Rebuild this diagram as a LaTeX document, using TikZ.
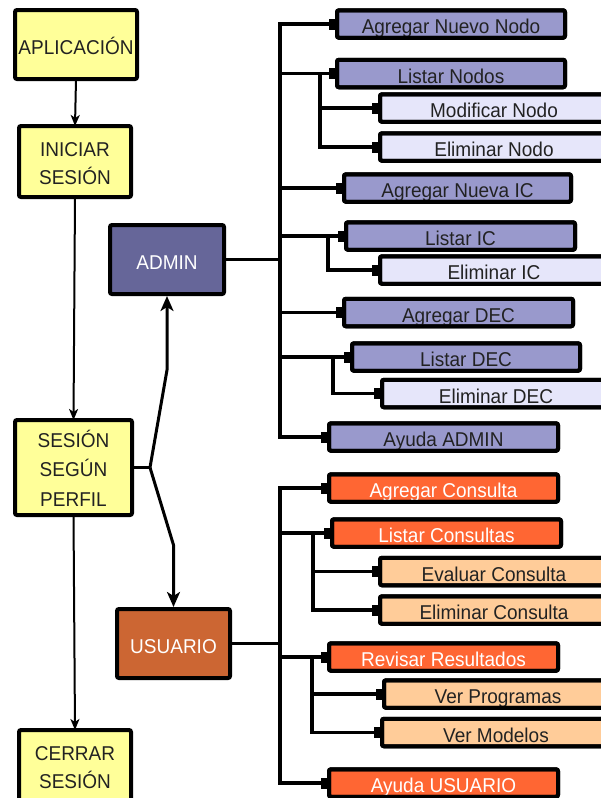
\documentclass[tikz,border=0pt]{standalone}
\usepackage{fontspec}
\setmainfont{Liberation Sans}[FakeStretch=0.95]
\usetikzlibrary{arrows.meta}
\definecolor{yel}{HTML}{FFFF99}
\definecolor{admc}{HTML}{666699}
\definecolor{usrc}{HTML}{CC6633}
\definecolor{aone}{HTML}{9999CC}
\definecolor{atwo}{HTML}{E6E6FA}
\definecolor{uone}{HTML}{FF6633}
\definecolor{utwo}{HTML}{FFCC99}
\definecolor{txt}{HTML}{222222}
\tikzset{
  box/.style={draw=black, line width=4pt, rounded corners=2pt, inner sep=0pt,
    outer sep=0pt, font=\fontsize{20}{28}\selectfont, align=center, text=txt,
    text height=19.5pt, text depth=0pt},
  frame/.style={line width=4pt, rounded corners=2pt},
  flow/.style={box, fill=yel},
  role/.style={box, text=white, minimum width=114pt, minimum height=69pt},
  lvone/.style={box, minimum width=228pt, minimum height=27.5pt},
  lvtwo/.style={box, minimum width=228pt, minimum height=27.5pt},
  conn/.style={line width=3.3pt, -{Square[length=8pt,width=11pt]}},
  bus/.style={line width=3.3pt, line cap=rect},
  thin/.style={line width=2pt, -{Stealth[length=11pt,width=9pt,inset=3pt]}},
  thick/.style={line width=3pt, -{Stealth[length=15pt,width=13pt,inset=4pt]}},
}
\begin{document}
\begin{tikzpicture}[x=1pt, y=-1pt]
\path[use as bounding box] (0,0) rectangle (601,798);
\clip (0,0) rectangle (601,798);

% main flow column
\node[flow, minimum width=122pt, minimum height=69pt] (app) at (76,44.5) {APLICACIÓN};
\node[flow, minimum width=112pt, minimum height=71pt, text height=46.3pt] (ini) at (75,161.5) {INICIAR\\SESIÓN};
\node[flow, minimum width=117pt, minimum height=95pt, text height=77.3pt,
      font=\fontsize{20}{29.5}\selectfont] (ses) at (73.5,467.5) {SESIÓN\\SEGÚN\\PERFIL};
\node[flow, minimum width=112pt, minimum height=74pt, text height=43.3pt] (cer) at (75,767) {CERRAR\\SESIÓN};

% roles
\node[role, fill=admc] (admin) at (167,259.5) {ADMIN};
\node[role, fill=usrc, minimum width=113pt] (usr) at (173.5,643.5) {USUARIO};

% administrator options
\node[lvone, fill=aone] (an1) at (451,24) {Agregar Nuevo Nodo};
\node[lvone, fill=aone] (an2) at (451,73.5) {Listar Nodos};
\node[lvtwo, fill=atwo] (an3) at (494,108) {Modificar Nodo};
\node[lvtwo, fill=atwo] (an4) at (494,147) {Eliminar Nodo};
\node[lvone, fill=aone, minimum width=227pt] (an5) at (457.5,188) {Agregar Nueva IC};
\node[lvone, fill=aone, minimum width=229pt] (an6) at (460.5,236) {Listar IC};
\node[lvtwo, fill=atwo] (an7) at (494,270) {Eliminar IC};
\node[lvone, fill=aone, minimum width=229pt] (an8) at (458.5,312.5) {Agregar DEC};
\node[lvone, fill=aone] (an9) at (466,357) {Listar DEC};
\node[lvtwo, fill=atwo] (an10) at (496,393.5) {Eliminar DEC};
\node[lvone, fill=aone, minimum width=229pt] (an11) at (443.5,437) {Ayuda ADMIN};

% user options
\node[lvone, fill=uone, text=white, minimum width=229pt] (us1) at (443.5,488) {Agregar Consulta};
\node[lvone, fill=uone, text=white, minimum width=229pt] (us2) at (446.5,533) {Listar Consultas};
\node[lvtwo, fill=utwo] (us3) at (494,571.5) {Evaluar Consulta};
\node[lvtwo, fill=utwo] (us4) at (494,610) {Eliminar Consulta};
\node[lvone, fill=uone, text=white, minimum width=229pt] (us5) at (443.5,657) {Revisar Resultados};
\node[lvtwo, fill=utwo] (us6) at (498,694) {Ver Programas};
\node[lvtwo, fill=utwo] (us7) at (496,732.5) {Ver Modelos};
\node[lvone, fill=uone, text=white, minimum width=229pt] (us8) at (443.5,783) {Ayuda USUARIO};

% frames stroked again so that descenders stay behind them
\foreach \n in {an1,an2,an3,an4,an5,an6,an7,an8,an9,an10,an11,
                us1,us2,us3,us4,us5,us6,us7,us8}
  \draw[frame] (\n.south west) rectangle (\n.north east);

% flow arrows
\draw[thin] (app.south) -- (ini.north);
\draw[thin] (ini.south) -- (ses.north);
\draw[thin] (ses.south) -- (cer.north);

% profile fork
\coordinate (fork) at (150,467.5);
\draw[line width=3pt] (ses.east) -- (fork);
\draw[thick] (fork) -- (167,370) -- ([yshift=-2pt]admin.south);
\draw[thick] (fork) -- (173.5,545) -- ([yshift=2pt]usr.north);

% administrator tree
\coordinate (abus) at (280,0);
\coordinate (nbus) at (320,0);
\coordinate (ibus) at (328,0);
\coordinate (dbus) at (333,0);
\draw[bus] (abus |- an1.west) -- (abus |- an11.west);
\draw[bus] (admin.east) -- (abus |- admin.east);
\foreach \n in {an1,an2,an5,an6,an8,an9,an11}
  \draw[conn] (abus |- \n.west) -- (\n.west);
\draw[bus] (nbus |- an2.west) -- (nbus |- an4.west);
\foreach \n in {an3,an4} \draw[conn] (nbus |- \n.west) -- (\n.west);
\draw[bus] (ibus |- an6.west) -- (ibus |- an7.west);
\draw[conn] (ibus |- an7.west) -- (an7.west);
\draw[bus] (dbus |- an9.west) -- (dbus |- an10.west);
\draw[conn] (dbus |- an10.west) -- (an10.west);

% user tree
\coordinate (ubus) at (280,0);
\coordinate (cbus) at (313,0);
\coordinate (rbus) at (312,0);
\draw[bus] (ubus |- us1.west) -- (ubus |- us8.west);
\draw[bus] (usr.east) -- (ubus |- usr.east);
\foreach \n in {us1,us2,us5,us8}
  \draw[conn] (ubus |- \n.west) -- (\n.west);
\draw[bus] (cbus |- us2.west) -- (cbus |- us4.west);
\foreach \n in {us3,us4} \draw[conn] (cbus |- \n.west) -- (\n.west);
\draw[bus] (rbus |- us5.west) -- (rbus |- us7.west);
\foreach \n in {us6,us7} \draw[conn] (rbus |- \n.west) -- (\n.west);
\end{tikzpicture}
\end{document}
